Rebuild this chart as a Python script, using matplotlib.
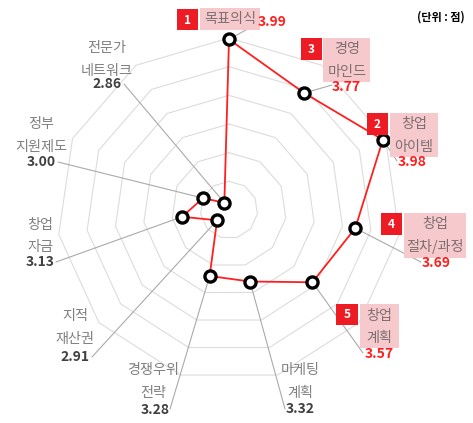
import numpy as np
import matplotlib
matplotlib.use('Agg')
import matplotlib.pyplot as plt
from matplotlib.patches import Rectangle
from matplotlib.transforms import Affine2D

plt.rcParams['font.family'] = ['Noto Sans CJK KR', 'DejaVu Sans']

# survey items, clockwise from the top
categories = ['목표의식', '경영\n마인드', '창업\n아이템', '창업\n절차/과정', '창업\n계획',
              '마케팅\n계획', '경쟁우위\n전략', '지적\n재산권', '창업\n자금',
              '정부\n지원제도', '전문가\n네트워크']
scores = [3.99, 3.77, 3.98, 3.69, 3.57, 3.32, 3.28, 2.91, 3.13, 3.00, 2.86]
ring_levels = [3.0, 3.2, 3.4, 3.6, 3.8, 4.0]
unit_label = '(단위 : 점)'

# label placement in pixels (top-left origin): name centre x, first line y, line gap,
# value centre (x, y), leader end (x, y)
label_pos = [
    (230, 19, 0, (272, 22), (251, 27)),
    (347, 49, 23, (346, 87), (332, 85)),
    (414, 124, 23, (412, 162), (397, 161)),
    (435, 224, 23, (436, 263), (421, 262)),
    (379, 316, 22, (379, 354), (363, 353)),
    (300, 370, 23, (300, 409), (285, 409)),
    (153, 370, 23, (155, 410), (170, 409)),
    (75, 316, 23, (75, 357), (92, 357)),
    (40, 225, 22, (40, 262), (56, 262)),
    (41, 124, 23, (41, 162), (58, 162)),
    (107, 48, 23, (107, 84), (124, 84)),
]
# rank badge and pink box (x0, y0, x1, y1) for the top five
badge_pos = {
    0: ((177, 9, 198, 30), (200, 8, 260, 30)),
    2: ((367, 113, 388, 135), (390, 113, 438, 157)),
    1: ((301, 38, 322, 60), (323, 38, 370, 82)),
    3: ((381, 213, 402, 235), (404, 213, 466, 258)),
    4: ((336, 304, 358, 325), (360, 304, 399, 348)),
}

W, H = 473, 423
fig = plt.figure(figsize=(W / 100, H / 100), dpi=100)
pix = Affine2D().scale(1 / W, -1 / H).translate(0, 1) + fig.transFigure

ax = fig.add_axes([57 / W, 41 / H, 344 / W, 344 / H], projection='polar')
ax.set_theta_zero_location('N')
ax.set_theta_direction(-1)
ax.set_ylim(2.8, 4.0)
ax.axis('off')

n = len(categories)
angles = np.linspace(0, 2 * np.pi, n, endpoint=False)
closed = np.append(angles, angles[0])

for r in ring_levels:
    ax.plot(closed, [r] * (n + 1), color='#dcdcdc', lw=0.8, zorder=1, clip_on=False)

ax.plot(closed, scores + scores[:1], color='#ff1f1f', lw=1.3, zorder=3, clip_on=False)
ax.plot(angles, scores, 'o', ms=8, mfc='white', mec='black', mew=2.4, zorder=4, clip_on=False)

order = sorted(range(n), key=lambda i: -scores[i])
rank = {i: k + 1 for k, i in enumerate(order[:5])}

for i, (cat, val) in enumerate(zip(categories, scores)):
    cx, cy, gap, (vx, vy), (lx, ly) = label_pos[i]
    top = i in rank
    ax.annotate('', xy=(angles[i], val), xytext=(lx, ly), textcoords=pix,
                arrowprops=dict(arrowstyle='-', color='#aaaaaa', lw=0.8,
                                shrinkA=0, shrinkB=0), zorder=2)
    if top:
        (b0, b1, b2, b3), (p0, p1, p2, p3) = badge_pos[i]
        fig.add_artist(Rectangle((b0, b1), b2 - b0, b3 - b1, transform=pix,
                                 color='#ed1c24', lw=0, zorder=5))
        fig.add_artist(Rectangle((p0, p1), p2 - p0, p3 - p1, transform=pix,
                                 color='#f6c9cc', lw=0, zorder=5))
        fig.text((b0 + b2) / 2, (b1 + b3) / 2 + 0.5, str(rank[i]), transform=pix,
                 ha='center', va='center', color='white', fontsize=8.5,
                 fontweight='bold', zorder=6)
    for k, line in enumerate(cat.split('\n')):
        fig.text(cx, cy + k * gap, line, transform=pix, ha='center', va='center',
                 fontsize=10.2, color='#7d6f70' if top else '#808080', zorder=6)
    fig.text(vx, vy, f'{val:.2f}', transform=pix, ha='center', va='center',
             fontsize=10, fontweight='bold',
             color='#ff1f1f' if top else '#404040', zorder=6)

fig.text(441, 17, unit_label, transform=pix, ha='center', va='center',
         fontsize=8, fontweight='bold', color='black')

fig.savefig('out.png', dpi=100)
